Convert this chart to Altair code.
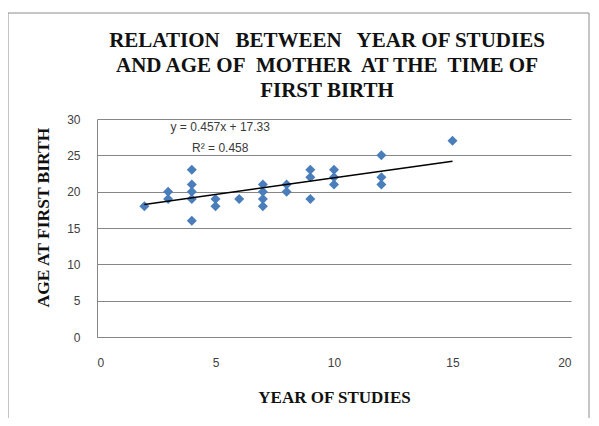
import altair as alt
import pandas as pd

# Data
years = [2, 3, 3, 4, 4, 4, 4, 4, 5, 5, 6, 7, 7, 7, 7, 8, 8, 9, 9, 9, 10, 10, 10, 12, 12, 12, 15]
ages = [18, 20, 19, 23, 21, 20, 19, 16, 19, 18, 19, 21, 20, 19, 18, 21, 20, 23, 22, 19, 23, 22, 21, 25, 22, 21, 27]

trend_x = [2, 15]
trend_y = [18.24, 24.19]

ann_text = ["y = 0.457x + 17.33", "R\u00b2 = 0.458"]
ann_x = [5.2, 5.2]
ann_y = [28.9, 26.0]

NB = "\u00a0"
title_lines = [
    "RELATION" + NB * 2 + " BETWEEN" + NB * 2 + " YEAR OF STUDIES",
    "AND AGE OF" + NB + " MOTHER" + NB + " AT THE" + NB + " TIME OF",
    "FIRST BIRTH",
]

pts = pd.DataFrame({"x": years, "y": ages})
trend = pd.DataFrame({"x": trend_x, "y": trend_y})
ann = pd.DataFrame({"x": ann_x, "y": ann_y, "t": ann_text})

xscale = alt.Scale(domain=[0, 20], nice=False, zero=False)
yscale = alt.Scale(domain=[0, 30], nice=False, zero=False)

xaxis = alt.Axis(
    title="YEAR OF STUDIES", values=[0, 5, 10, 15, 20], grid=False, ticks=False,
    domainColor="#868686", labelColor="#404040", labelFont="Liberation Sans",
    labelFontSize=12, labelPadding=20,
    titleFont="Liberation Serif", titleFontSize=17, titleFontWeight="bold",
    titleColor="#111111", titleX=237, titleY=60, titleBaseline="middle", titleAlign="center",
)
yaxis = alt.Axis(
    title="AGE AT FIRST BIRTH", values=[0, 5, 10, 15, 20, 25, 30], tickCount=7, grid=True,
    gridColor="#868686", gridWidth=1, ticks=False,
    domainColor="#868686", labelColor="#404040", labelFont="Liberation Sans",
    labelFontSize=12, labelPadding=17,
    titleFont="Liberation Serif", titleFontSize=17.5, titleFontWeight="bold",
    titleColor="#111111", titleX=-54, titleY=98, titleAngle=-90,
    titleBaseline="middle", titleAlign="center",
)

X = alt.X("x:Q", scale=xscale, axis=xaxis)
Y = alt.Y("y:Q", scale=yscale, axis=yaxis)

base_one = pd.DataFrame({"a": [0]})

border = alt.Chart(base_one).mark_rect(
    fill=None, stroke="#8c8c8c", strokeWidth=1, clip=False
).encode(
    x=alt.value(-89), x2=alt.value(492), y=alt.value(-106), y2=alt.value(310)
)

title = alt.Chart(base_one).mark_text(
    font="Liberation Serif", fontSize=21, fontWeight="bold", color="#111111",
    align="center", baseline="middle", lineHeight=25,
).encode(
    x=alt.value(230), y=alt.value(-78), text=alt.value(title_lines)
)

points = alt.Chart(pts).mark_point(
    shape="diamond", filled=True, size=100, color="#4a7ebb", opacity=1
).encode(x=X, y=Y)

line = alt.Chart(trend).mark_line(color="#000000", strokeWidth=1.5).encode(x=X, y=Y)

text = alt.Chart(ann).mark_text(
    font="Liberation Sans", fontSize=12, color="#3a3a3a", align="center", baseline="middle"
).encode(x=X, y=Y, text="t:N")

chart = alt.layer(border, title, points, line, text).properties(
    width=474,
    height=218,
    autosize=alt.AutoSizeParams(type="none"),
    padding={"left": 89, "top": 111, "right": 20, "bottom": 81},
    background="white",
).configure_view(stroke=None)

chart.save("out.html", embed_options={"renderer": "svg", "actions": False})
